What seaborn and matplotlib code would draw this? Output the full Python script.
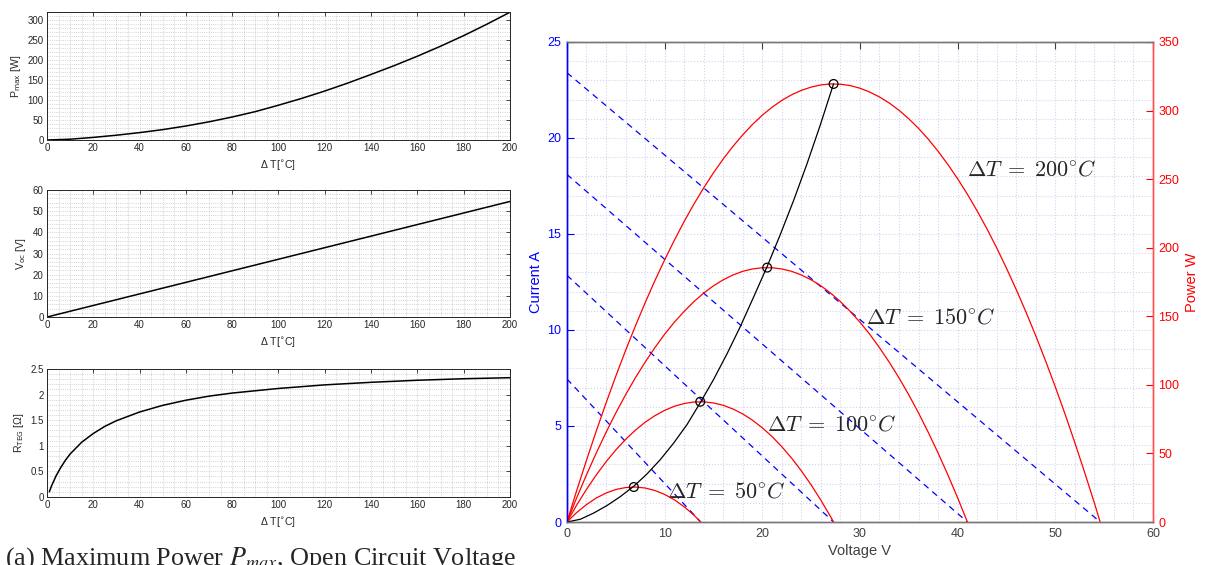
import seaborn as sns
import matplotlib.pyplot as plt
import numpy as np
import pandas as pd
from matplotlib.ticker import MultipleLocator, FormatStrFormatter

# ---- left panels: TEG characteristics vs temperature difference ----
dt = [0, 10, 20, 30, 40, 50, 60, 70, 80, 90, 100, 110, 120, 130, 140, 150, 160, 170, 180, 190, 200]
p_max = [0, 2, 6.5, 12, 18.5, 26, 35, 45.5, 57.5, 71, 87, 104, 122.5, 142.5, 164, 186, 209.5, 234.5, 261, 289.5, 319.5]

dt_voc = [0, 50, 100, 150, 200]
v_oc = [0, 13.65, 27.3, 40.95, 54.6]

dt_r = [1, 2, 4, 6, 8, 10, 15, 20, 25, 30, 40, 50, 60, 70, 80, 100, 120, 140, 160, 180, 200]
r_teg = [0.1, 0.22, 0.42, 0.58, 0.72, 0.84, 1.07, 1.24, 1.38, 1.49, 1.66, 1.79, 1.89, 1.97, 2.03,
         2.12, 2.19, 2.24, 2.28, 2.31, 2.33]

# ---- right panel: I-V lines and P-V curves ----
curve_labels = ['50', '100', '150', '200']
isc = [7.45, 12.85, 18.1, 23.4]        # short circuit current [A]
voc_curves = [13.7, 27.3, 41.0, 54.6]  # open circuit voltage [V]

v_50 = [0, 1, 2, 3, 4, 5, 6, 7, 8, 9, 10, 11, 12, 13, 13.7]
p_50 = [0, 6.9, 12.7, 17.5, 21.1, 23.7, 25.1, 25.5, 24.8, 23.0, 20.1, 16.2, 11.1, 5.0, 0]

v_100 = [0, 1, 2, 3, 4, 5, 6, 7, 8, 9, 10, 11, 12, 13, 14, 15, 16, 17, 18, 19, 20,
         21, 22, 23, 24, 25, 26, 27, 27.3]
p_100 = [0, 12.4, 23.8, 34.3, 43.9, 52.5, 60.2, 66.9, 72.7, 77.5, 81.4, 84.4, 86.4, 87.5, 87.6,
         86.8, 85.1, 82.4, 78.8, 74.2, 68.7, 62.3, 54.9, 46.6, 37.3, 27.1, 15.9, 3.8, 0]

v_150 = [0, 1, 2, 3, 4, 5, 6, 7, 8, 9, 10, 11, 12, 13, 14, 15, 16, 17, 18, 19, 20,
         21, 22, 23, 24, 25, 26, 27, 28, 29, 30, 31, 32, 33, 34, 35, 36, 37, 38, 39, 40, 41]
p_150 = [0, 17.7, 34.4, 50.3, 65.3, 79.5, 92.7, 105.1, 116.5, 127.1, 136.9, 145.7, 153.6, 160.7,
         166.9, 172.2, 176.6, 180.1, 182.8, 184.5, 185.4, 185.4, 184.5, 182.8, 180.1, 176.6, 172.2,
         166.9, 160.7, 153.6, 145.7, 136.9, 127.1, 116.5, 105.1, 92.7, 79.5, 65.3, 50.3, 34.4, 17.7, 0]

v_200 = [0, 1, 2, 3, 4, 5, 6, 7, 8, 9, 10, 11, 12, 13, 14, 15, 16, 17, 18, 19, 20,
         21, 22, 23, 24, 25, 26, 27, 28, 29, 30, 31, 32, 33, 34, 35, 36, 37, 38, 39, 40,
         41, 42, 43, 44, 45, 46, 47, 48, 49, 50, 51, 52, 53, 54, 54.6]
p_200 = [0, 23, 45, 66.3, 86.7, 106.3, 125, 142.8, 159.8, 175.9, 191.1, 205.5, 219.1, 231.8, 243.6,
         254.6, 264.7, 273.9, 282.3, 289.9, 296.6, 302.4, 307.4, 311.5, 314.7, 317.1, 318.7, 319.4,
         319.2, 318.2, 316.3, 313.5, 309.9, 305.5, 300.2, 294, 287, 279.1, 270.3, 260.7, 250.3,
         239, 226.8, 213.8, 199.9, 185.1, 169.5, 153.1, 135.8, 117.6, 98.6, 78.7, 57.9, 36.3, 13.9, 0]

# maximum power point locus (V = Voc/2 on the same dT grid as p_max)
mpp_v = [0, 1.37, 2.73, 4.1, 5.46, 6.83, 8.19, 9.56, 10.92, 12.29, 13.65, 15.02, 16.38, 17.75,
         19.11, 20.48, 21.84, 23.21, 24.57, 25.94, 27.3]
mpp_p = p_max
mpp_marks_v = [6.85, 13.65, 20.5, 27.3]
mpp_marks_p = [25.5, 87.7, 185.5, 319.4]

label_pos_x = [10.2, 20.5, 30.6, 41.0]
label_pos_y = [1.56, 5.05, 10.6, 18.33]

sns.set_theme(style='white')
plt.rcParams['font.family'] = ['Liberation Sans', 'DejaVu Sans']

fig = plt.figure(figsize=(12.05, 5.65), dpi=100)

grey = '#262626'
small = 7
lab = 7.6


def style_small(ax, ylim, ymaj, ymin):
    ax.set_xlim(0, 200)
    ax.set_ylim(*ylim)
    ax.xaxis.set_major_locator(MultipleLocator(20))
    ax.xaxis.set_minor_locator(MultipleLocator(5))
    ax.yaxis.set_major_locator(MultipleLocator(ymaj))
    ax.yaxis.set_minor_locator(MultipleLocator(ymin))
    ax.grid(which='both', color='#c4c4c4', linestyle=':', linewidth=0.6)
    ax.tick_params(which='major', direction='in', length=3, width=0.6, labelsize=small,
                   colors=grey, top=True, right=True, pad=2.5)
    ax.tick_params(which='minor', length=0)
    for s in ax.spines.values():
        s.set_color(grey)
        s.set_linewidth(0.7)
    ax.set_xlabel(r'Δ T[$^{\circ}$C]', fontsize=lab, color=grey, labelpad=3)


ax1 = fig.add_axes([0.039, 0.7522, 0.3842, 0.2265])
sns.lineplot(x=dt, y=p_max, ax=ax1, color='black', linewidth=1.1)
style_small(ax1, (0, 320), 50, 10)
ax1.set_ylabel(r'P$_{\mathrm{max}}$ [W]', fontsize=lab, color=grey, labelpad=3)

ax2 = fig.add_axes([0.039, 0.4389, 0.3842, 0.2248])
sns.lineplot(x=dt_voc, y=v_oc, ax=ax2, color='black', linewidth=1.1)
style_small(ax2, (0, 60), 10, 2)
ax2.set_ylabel(r'V$_{\mathrm{oc}}$ [V]', fontsize=lab, color=grey, labelpad=3)

ax3 = fig.add_axes([0.039, 0.1204, 0.3842, 0.2265])
sns.lineplot(x=dt_r, y=r_teg, ax=ax3, color='black', linewidth=1.1)
style_small(ax3, (0, 2.5), 0.5, 0.1)
ax3.yaxis.set_major_formatter(FormatStrFormatter('%g'))
ax3.set_ylabel(r'R$_{\mathrm{TEG}}$ [Ω]', fontsize=lab, color=grey, labelpad=3)

fig.text(0.004, 1 - 545 / 565, r'(a) Maximum Power $P_{max}$, Open Circuit Voltage',
         fontsize=18.8, family='Liberation Serif', math_fontfamily='stix', va='top', ha='left')

# ---- right chart ----
axi = fig.add_axes([0.4705, 0.0761, 0.4863, 0.8496])
axp = axi.twinx()

for i in range(len(isc)):
    sns.lineplot(x=[0, voc_curves[i]], y=[isc[i], 0], ax=axi, color='blue',
                 linestyle=(0, (5, 4)), linewidth=0.9)

for v, p in [(v_50, p_50), (v_100, p_100), (v_150, p_150), (v_200, p_200)]:
    sns.lineplot(x=v, y=p, ax=axp, color='red', linewidth=0.9)

sns.lineplot(x=mpp_v, y=mpp_p, ax=axp, color='black', linewidth=0.9)
axp.scatter(mpp_marks_v, mpp_marks_p, s=40, facecolors='none', edgecolors='black',
            linewidths=0.9, zorder=5)

for i in range(len(curve_labels)):
    axi.text(label_pos_x[i], label_pos_y[i],
             r'$\Delta T \;=\; ' + curve_labels[i] + r'^{\circ} C$',
             fontsize=16, math_fontfamily='cm', ha='left', va='center', zorder=6)

axi.set_xlim(0, 60)
axi.set_ylim(0, 25)
axp.set_ylim(0, 350)
axi.xaxis.set_major_locator(MultipleLocator(10))
axi.xaxis.set_minor_locator(MultipleLocator(2))
axi.yaxis.set_major_locator(MultipleLocator(5))
axi.yaxis.set_minor_locator(MultipleLocator(1))
axp.yaxis.set_major_locator(MultipleLocator(50))
axi.grid(which='both', color='#d2d2f2', linestyle=':', linewidth=0.8)
axi.set_axisbelow(True)

tick_fs = 9
axi.tick_params(axis='x', which='major', direction='in', length=5, width=0.8,
                labelsize=tick_fs, colors='#404040', top=True, pad=4)
axi.tick_params(axis='y', which='major', direction='in', length=5, width=0.8,
                labelsize=tick_fs, colors='blue', pad=4)
axi.tick_params(which='minor', length=0)
axp.tick_params(axis='y', which='major', direction='in', length=5, width=0.8,
                labelsize=tick_fs, colors='red', pad=4)
axp.tick_params(which='minor', length=0)

for ax in (axi, axp):
    ax.spines['top'].set_color('#777777')
    ax.spines['bottom'].set_color('#777777')
    ax.spines['left'].set_color('blue')
    ax.spines['right'].set_color('#ff5050')
    for s in ax.spines.values():
        s.set_linewidth(1.0)

axi.set_xlabel('Voltage V', fontsize=10.5, color='#404040', labelpad=3)
axi.set_ylabel('Current A', fontsize=10.5, color='blue', labelpad=3)
axp.set_ylabel('Power W', fontsize=10.5, color='red', labelpad=4)

fig.savefig('out.png', dpi=100)
